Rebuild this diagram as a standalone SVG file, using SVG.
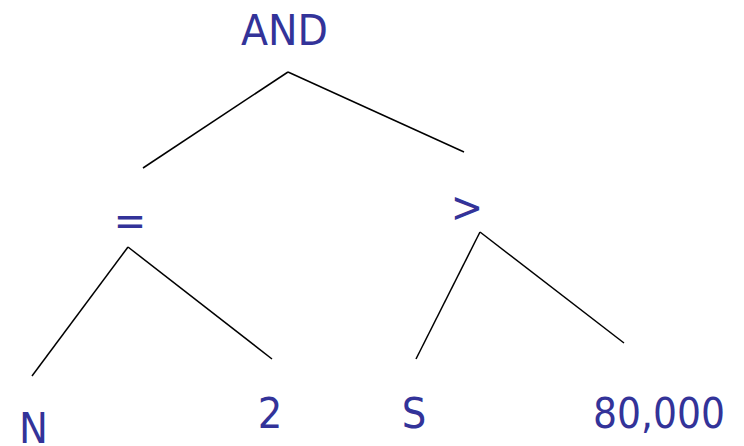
<svg xmlns="http://www.w3.org/2000/svg" width="744" height="446" viewBox="0 0 744 446">
<style>
.t{font-family:"DejaVu Sans Condensed","DejaVu Sans",sans-serif;font-stretch:condensed;font-size:43px;fill:#333399}
.c line{stroke:#000;stroke-width:1.5}
</style>
<rect width="744" height="446" fill="#fff"/>
<g class="c" id="connectors">
<line x1="288" y1="72" x2="143" y2="168"/>
<line x1="288" y1="72" x2="464" y2="152"/>
<line x1="128" y1="247" x2="32" y2="376"/>
<line x1="128" y1="247" x2="272" y2="359"/>
<line x1="480" y1="232" x2="416" y2="359"/>
<line x1="480" y1="232" x2="624" y2="343"/>
</g>
<g id="and"><text class="t" x="241" y="45" textLength="87" lengthAdjust="spacingAndGlyphs">AND</text></g>
<g id="eq"><text class="t" x="130" y="235" text-anchor="middle">=</text></g>
<g id="gt"><text class="t" x="467" y="222" text-anchor="middle">&gt;</text></g>
<g id="n"><text class="t" x="19" y="443">N</text></g>
<g id="two"><text class="t" x="270" y="428" text-anchor="middle">2</text></g>
<g id="s"><text class="t" x="414" y="428" text-anchor="middle">S</text></g>
<g id="num"><text class="t" x="593" y="428" textLength="132" lengthAdjust="spacingAndGlyphs">80,000</text></g>
</svg>
